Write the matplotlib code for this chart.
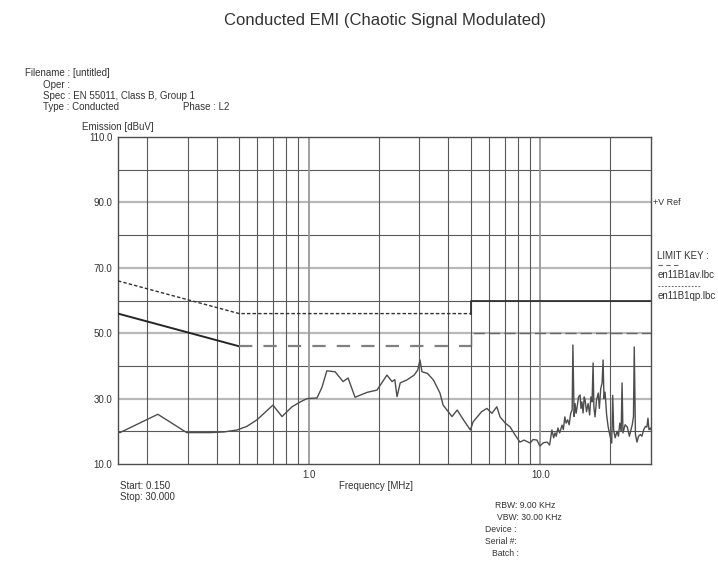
import matplotlib
matplotlib.use('Agg')
import matplotlib.pyplot as plt
from matplotlib.lines import Line2D
from matplotlib.ticker import FixedLocator, NullFormatter, NullLocator

plt.rcParams['font.family'] = ['Liberation Sans', 'DejaVu Sans']

# measured emission trace (frequency in MHz, level in dBuV)
freq = [0.150, 0.153, 0.223, 0.297, 0.375, 0.430, 0.490, 0.540, 0.597, 0.700,
        0.766, 0.846, 0.920, 0.982, 1.085, 1.140, 1.196, 1.298, 1.406, 1.477,
        1.583, 1.783, 1.969, 2.174, 2.286, 2.350, 2.403, 2.480, 2.650, 2.850,
        2.950, 3.019, 3.080, 3.250, 3.450, 3.682, 3.800, 4.151, 4.370, 4.650,
        4.980, 5.120, 5.570, 5.870, 6.170, 6.480, 6.690, 7.050, 7.400, 7.750,
        8.150, 8.500, 9.020, 9.300, 9.660,
        9.94, 10.30, 10.68, 10.95, 11.20, 11.40, 11.55, 11.70, 11.89, 12.10,
        12.39, 12.55, 12.74, 12.90, 13.10, 13.30, 13.50, 13.70, 13.80, 13.97,
        14.10, 14.25, 14.40, 14.60, 14.82, 14.95, 15.10, 15.27, 15.45, 15.58,
        15.80, 16.06, 16.30, 16.50, 16.70, 16.87, 17.00, 17.20, 17.45, 17.76,
        17.95, 18.20, 18.45, 18.63, 18.80, 19.00, 19.30, 19.60, 19.90, 20.30,
        20.50, 20.70, 21.00, 21.40, 21.70, 22.00, 22.30, 22.50, 22.70, 23.20,
        23.70, 24.20, 24.90, 25.20, 25.40, 25.70, 26.10, 26.50, 27.00, 27.40,
        27.90, 28.40, 28.80, 29.10, 29.40, 29.80, 30.00]
level = [19.8, 19.6, 25.2, 19.6, 19.6, 19.8, 20.4, 21.5, 23.5, 28.0,
         24.5, 27.5, 29.0, 30.0, 30.2, 33.5, 38.5, 38.2, 35.2, 36.3,
         30.4, 31.9, 32.6, 37.2, 35.2, 35.8, 30.6, 34.8, 35.7, 37.2,
         38.7, 41.8, 38.2, 37.7, 35.7, 31.7, 28.0, 24.5, 26.5, 23.5,
         20.4, 22.9, 26.0, 27.0, 25.5, 27.5, 24.4, 22.5, 21.3, 19.0,
         16.7, 17.3, 16.4, 17.5, 17.3,
         15.5, 16.5, 16.7, 15.8, 20.4, 18.0, 19.5, 18.5, 21.0, 19.5,
         21.9, 20.5, 24.4, 22.5, 23.5, 22.0, 25.5, 26.5, 46.4, 24.5,
         28.5, 25.5, 27.5, 30.5, 31.1, 27.0, 29.0, 25.6, 30.5, 29.6,
         26.0, 28.5, 25.0, 30.5, 29.0, 40.9, 27.5, 24.4, 29.5, 31.7,
         27.0, 33.0, 34.8, 41.8, 30.0, 32.0, 25.0, 21.3, 19.0, 16.4,
         31.0, 20.4, 18.0, 20.0, 18.5, 22.5, 20.0, 34.8, 19.5, 22.0,
         21.3, 18.5, 22.0, 24.5, 45.8, 19.0, 16.7, 18.5, 19.0, 18.5,
         20.5, 21.5, 21.3, 24.0, 20.5, 21.0, 20.5]

# EN 55011 class B limit lines
qp_freq = [0.15, 0.5, 5.0]
qp_level = [66, 56, 56]
qp_high_freq = [5.0, 5.0, 30.0]
qp_high_level = [56, 60, 60]
av_freq = [0.15, 0.5]
av_level = [56, 46]
av_mid_freq = [0.5, 5.0]
av_mid_level = [46, 46]
av_high_freq = [5.0, 5.0, 30.0]
av_high_level = [46, 50, 50]

y_ticks = [10, 30, 50, 70, 90, 110]
y_ticklabels = ['10.0', '30.0', '50.0', '70.0', '90.0', '110.0']
x_ticks = [1.0, 10.0]
x_ticklabels = ['1.0', '10.0']

fig = plt.figure(figsize=(7.18, 5.62), dpi=100)
ax = fig.add_axes([0.1643, 0.1744, 0.7424, 0.5818])
ax.set_xscale('log')
ax.set_xlim(0.15, 30)
ax.set_ylim(10, 110)

# grid: labelled rows in light grey, the others darker
for v in range(20, 110, 10):
    if v in y_ticks:
        ax.axhline(v, color='0.72', lw=1.6, zorder=1)
    else:
        ax.axhline(v, color='0.35', lw=0.8, zorder=1)
vgrid = [0.2, 0.3, 0.4, 0.5, 0.6, 0.7, 0.8, 0.9, 1, 2, 3, 4, 5, 6, 7, 8, 9, 10, 20]
for f in vgrid:
    c, w = ('0.6', 1.3) if f in (1, 10) else ('0.35', 0.8)
    ax.axvline(f, color=c, lw=w, zorder=1)

# limit lines
ax.plot(qp_freq, qp_level, color='0.2', lw=1.0, dashes=(2.5, 1.5), zorder=3)
ax.plot(qp_high_freq, qp_high_level, color='0.2', lw=1.3, zorder=3)
ax.plot(av_freq, av_level, color='0.15', lw=1.4, zorder=3)
ax.plot(av_mid_freq, av_mid_level, color='0.5', lw=1.6, dashes=(6, 5), zorder=3)
ax.plot(av_high_freq, av_high_level, color='0.4', lw=1.0, dashes=(8, 3), zorder=3)

# emission trace
ax.plot(freq, level, color='0.3', lw=1.0, zorder=4)

ax.yaxis.set_major_locator(FixedLocator(y_ticks))
ax.set_yticklabels(y_ticklabels)
ax.xaxis.set_major_locator(FixedLocator(x_ticks))
ax.set_xticklabels(x_ticklabels)
ax.xaxis.set_minor_locator(NullLocator())
ax.xaxis.set_minor_formatter(NullFormatter())
ax.tick_params(length=0, labelsize=7, colors='0.2', pad=4)
for s in ax.spines.values():
    s.set_color('0.3')
    s.set_linewidth(1.0)

fig.text(0.536, 0.964, 'Conducted EMI (Chaotic Signal Modulated)',
         ha='center', va='center', fontsize=12, color='0.2')

small = dict(fontsize=7, color='0.2', va='center')
def px(x, y, s, **kw):
    fig.text(x / 718, 1 - y / 562, s, **{**small, **kw})

px(25, 73, 'Filename : [untitled]')
px(43, 85, 'Oper :')
px(43, 96, 'Spec : EN 55011, Class B, Group 1')
px(43, 107, 'Type : Conducted')
px(183, 107, 'Phase : L2')
px(82, 127, 'Emission [dBuV]')

px(120, 486, 'Start: 0.150')
px(120, 497, 'Stop: 30.000')
px(376, 486, 'Frequency [MHz]', ha='center')

px(495, 505, 'RBW: 9.00 KHz', fontsize=6.2)
px(497, 517, 'VBW: 30.00 KHz', fontsize=6.2)
px(485, 530, 'Device :', fontsize=6.2)
px(485, 542, 'Serial #:', fontsize=6.2)
px(492, 553, 'Batch :', fontsize=6.2)

ax.text(1.003, 90, '+V Ref', transform=ax.get_yaxis_transform(),
        fontsize=6.5, color='0.2', va='center')
px(657, 256, 'LIMIT KEY :')
fig.add_artist(Line2D([658 / 718, 680 / 718], [1 - 265 / 562] * 2,
                      color='0.4', lw=0.8, dashes=(4, 3)))
px(658, 275, 'en11B1av.lbc')
fig.add_artist(Line2D([658 / 718, 700 / 718], [1 - 286 / 562] * 2,
                      color='0.4', lw=0.8, dashes=(1.5, 1.5)))
px(658, 296, 'en11B1qp.lbc')

fig.savefig('out.png', dpi=100)
